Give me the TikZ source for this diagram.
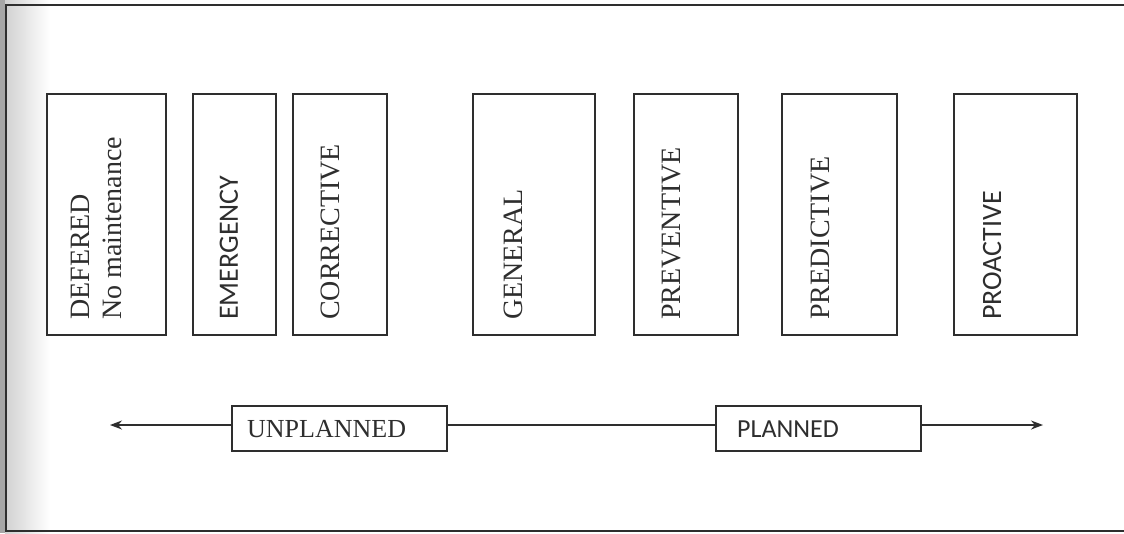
\documentclass[tikz,border=0pt]{standalone}
\usepackage{fontspec}
\setmainfont{Liberation Serif}
\newfontfamily\calfont{Carlito}
\usetikzlibrary{arrows.meta}
\definecolor{ink}{HTML}{2E2E2E}
\tikzset{
  box/.style={draw=ink, line width=1.4pt},
  vtext/.style={rotate=90, anchor=west, inner sep=0pt, text=ink, font=\fontsize{28}{30}\selectfont},
  htext/.style={anchor=west, inner sep=0pt, text=ink, font=\fontsize{26}{28}\selectfont},
  axis/.style={draw=ink, line width=1.4pt},
  tip/.style={-{Stealth[length=12pt,width=9pt]}}
}
\begin{document}
\begin{tikzpicture}[x=1pt,y=-1pt]
\useasboundingbox (0,0) rectangle (1124,533);
\fill[white] (0,0) rectangle (1124,533);
\shade[left color=black!18, right color=white] (5,0) rectangle (50,533);
\fill[black!35] (0,0) rectangle (5,533);
% frame
\draw[ink, line width=1.3pt] (1124,5) -- (6,5) -- (6,531) -- (1124,531);
% boxes
\draw[box] (47,94) rectangle (166,335);
\draw[box] (193,94) rectangle (276,335);
\draw[box] (293,94) rectangle (387,335);
\draw[box] (473,94) rectangle (595,335);
\draw[box] (634,94) rectangle (738,335);
\draw[box] (782,94) rectangle (897,335);
\draw[box] (954,94) rectangle (1077,335);
% texts
\node[vtext] (tdef) at (80,320) {DEFERED};
\node[vtext] (tno) at (112,320) {No maintenance};
\node[vtext, font=\calfont\fontsize{28}{30}\selectfont] (temer) at (229,320) {EMERGENCY};
\node[vtext] (tcorr) at (330,320) {CORRECTIVE};
\node[vtext] (tgen) at (513,320) {GENERAL};
\node[vtext] (tprev) at (672,320) {PREVENTIVE};
\node[vtext] (tpred) at (820,320) {PREDICTIVE};
\node[vtext, font=\calfont\fontsize{28}{30}\selectfont] (tproa) at (992,320) {PROACTIVE};
% axis
\node[box, minimum width=215pt, minimum height=45pt, inner sep=0pt] (unp) at (339.5,428.5) {};
\node[htext] at (247,429) {UNPLANNED};
\node[box, minimum width=205pt, minimum height=45pt, inner sep=0pt] (pl) at (818.5,428.5) {};
\node[htext, font=\calfont\fontsize{26}{28}\selectfont] at (737,429) {PLANNED};
\coordinate (lend) at (110,425);
\coordinate (rend) at (1043,425);
\draw[axis, tip] (unp.west |- lend) -- (lend);
\draw[axis] (unp.east |- lend) -- (pl.west |- lend);
\draw[axis, tip] (pl.east |- rend) -- (rend);
\end{tikzpicture}
\end{document}
